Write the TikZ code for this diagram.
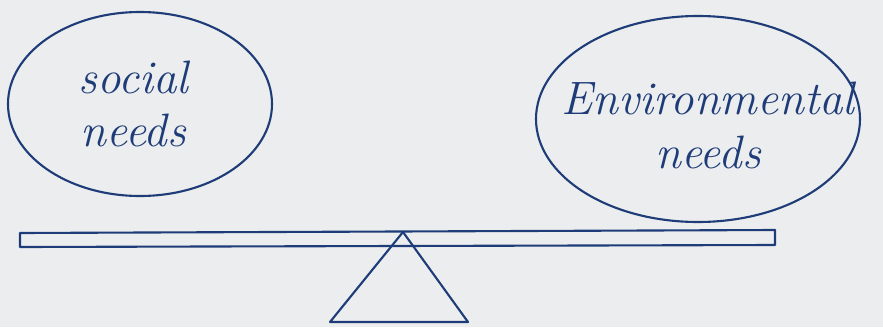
\documentclass[tikz,border=0pt]{standalone}
\usetikzlibrary{shapes.geometric}
\definecolor{ink}{RGB}{30,60,120}
\definecolor{paper}{RGB}{236,237,238}
\tikzset{
  ink/.style={draw=ink, line width=1.8pt, line join=round, line cap=round},
  bubble/.style={ink, ellipse, inner sep=0pt},
  handtext/.style={align=center, text=ink, inner sep=0pt,
    font=\fontsize{40}{46}\selectfont\itshape},
}
\begin{document}
\begin{tikzpicture}[x=0.03cm, y=-0.03cm]
  \fill[paper] (0,0) rectangle (883,327);
  \useasboundingbox (0,0) rectangle (883,327);
  % pans
  \node[bubble, minimum width=7.92cm, minimum height=5.52cm] (social) at (140,104) {};
  \node[handtext] (socialtext) at ([xshift=-0.2cm]social.center) {social\\needs};
  \node[bubble, minimum width=9.72cm, minimum height=6.18cm] (env) at (698,119) {};
  \node[handtext] (envtext) at ([xshift=0.3cm, yshift=-0.2cm]env.center) {Environmental\\needs};
  % beam
  \coordinate (bl1) at (20,233);
  \coordinate (br1) at (775,230);
  \coordinate (br2) at (775,245);
  \coordinate (bl2) at (20,247);
  \draw[ink] (bl2) -- (bl1) -- (br1) -- (br2) -- (bl2);
  % fulcrum
  \coordinate (apex) at (403,232);
  \coordinate (baseL) at (330,322);
  \coordinate (baseR) at (468,322);
  \draw[ink] (apex) -- (baseL) -- (baseR) -- cycle;
\end{tikzpicture}
\end{document}
